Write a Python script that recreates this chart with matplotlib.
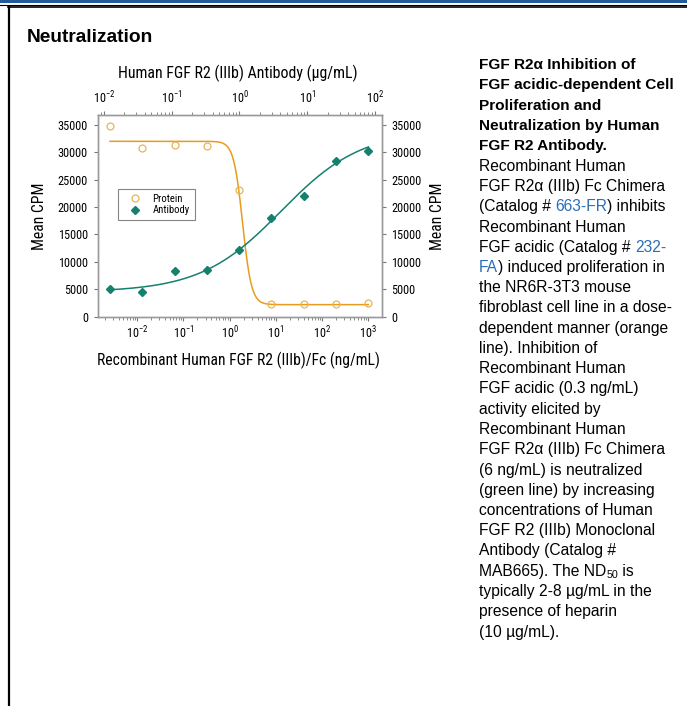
import numpy as np
import matplotlib
matplotlib.use('Agg')
import matplotlib.pyplot as plt
from matplotlib import font_manager as fm
from matplotlib.font_manager import FontProperties
from matplotlib.patches import Rectangle
from matplotlib.lines import Line2D
from matplotlib.ticker import FixedLocator

# data
protein_conc = [0.00256, 0.0128, 0.064, 0.32, 1.6, 8, 40, 200, 1000]      # ng/mL
protein_cpm = [34800, 30700, 31400, 31200, 23100, 2300, 2300, 2300, 2500]
antibody_conc = [0.0122, 0.0366, 0.110, 0.329, 0.988, 2.96, 8.89, 26.7, 80]  # ug/mL
antibody_cpm = [4990, 4440, 8340, 8580, 12110, 17960, 22040, 28430, 30200]
y_ticks = [0, 5000, 10000, 15000, 20000, 25000, 30000, 35000]
bottom_ticks = [1e-2, 1e-1, 1e0, 1e1, 1e2, 1e3]
top_ticks = [1e-2, 1e-1, 1e0, 1e1, 1e2]

# 4-parameter logistic fits (bottom, top, ec50, hill)
protein_fit = [2200, 32000, 1.9, 4.5]
antibody_fit = [4500, 34000, 4.1, 0.73]

orange = '#E89C1E'
orange_pt = '#E8B45A'
teal = '#16806F'
link = '#2A6EBB'
arial = ['Liberation Sans', 'DejaVu Sans']


def pick_condensed():
    good = []
    for f in fm.fontManager.ttflist:
        if f.style != 'normal' or f.weight not in (400, 'normal', 'regular', 'book'):
            continue
        n = f.name.lower()
        if f.stretch == 'condensed' or 'condensed' in n or 'narrow' in n:
            good.append(f)
    pref = ['roboto condensed', 'liberation sans narrow', 'open sans condensed',
            'noto sans condensed', 'noto sans', 'dejavu sans']
    for p in pref:
        for f in good:
            if f.name.lower() == p:
                return f.name, f.stretch
    if good:
        return good[0].name, good[0].stretch
    return 'Liberation Sans', 'normal'


cname, cstretch = pick_condensed()
cond = dict(family=cname, stretch=cstretch)
plt.rcParams['mathtext.fontset'] = 'custom'
plt.rcParams['mathtext.rm'] = f'{cname}:stretch={cstretch}'
plt.rcParams['mathtext.it'] = f'{cname}:stretch={cstretch}:style=italic'
plt.rcParams['mathtext.bf'] = f'{cname}:stretch={cstretch}:weight=bold'


def four_pl(x, p, decreasing=False):
    b, t, c, h = p
    if decreasing:
        return b + (t - b) / (1 + (x / c) ** h)
    return b + (t - b) / (1 + (c / x) ** h)


W, H = 687, 706
fig = plt.figure(figsize=(W / 100, H / 100), dpi=100)
renderer = fig.canvas.get_renderer()


def fit_size(s, target, base=10, **kw):
    t = fig.text(0, 0, s, fontsize=base, **kw)
    w = t.get_window_extent(renderer).width
    t.remove()
    return base * target / w


# page decoration
fig.add_artist(Rectangle((0, 1 - 3 / H), 1, 3 / H, transform=fig.transFigure, color='#1F5C99', lw=0))
fig.add_artist(Line2D([0, 1], [1 - 4.5 / H] * 2, transform=fig.transFigure, color='black', lw=0.8))
fig.add_artist(Line2D([8 / W, 1], [1 - 7 / H] * 2, transform=fig.transFigure, color='black', lw=1.2))
fig.add_artist(Line2D([8.5 / W] * 2, [0, 1 - 7 / H], transform=fig.transFigure, color='black', lw=1.6))

fig.text(27 / W, 1 - 38 / H, 'Neutralization', family=arial, weight='bold',
         fontsize=fit_size('Neutralization', 126, family=arial, weight='bold'),
         va='center', ha='left')

tick_fs = fit_size('35000', 30, **cond)
label_fs = fit_size('Recombinant Human FGF R2 (IIIb)/Fc (ng/mL)', 283, **cond)
top_fs = fit_size('Human FGF R2 (IIIb) Antibody (\u03bcg/mL)', 240, **cond)
legend_fs = fit_size('Antibody', 37, **cond)

ax = fig.add_axes([97.7 / W, 1 - 316.7 / H, 284 / W, 201.7 / H])
ax.set_xscale('log')
ax.set_xlim(10 ** -2.857, 10 ** 3.29)
ax.set_ylim(0, 36800)
ax.yaxis.set_major_locator(FixedLocator(y_ticks))
ax.xaxis.set_major_locator(FixedLocator(bottom_ticks))

xs = np.logspace(np.log10(protein_conc[0]), np.log10(protein_conc[-1]), 400)
ax.plot(xs, four_pl(xs, protein_fit, decreasing=True), color=orange, lw=1.1)
ax.plot(protein_conc, protein_cpm, 'o', mfc='none', mec=orange_pt, ms=5, mew=0.9, label='Protein')

axt = ax.twiny()
axt.set_xscale('log')
axt.set_xlim(10 ** -2.093, 10 ** 2.099)
axt.xaxis.set_major_locator(FixedLocator(top_ticks))
xa = np.logspace(np.log10(antibody_conc[0]), np.log10(antibody_conc[-1]), 400)
axt.plot(xa, four_pl(xa, antibody_fit), color=teal, lw=1.1)
axt.plot(antibody_conc, antibody_cpm, 'D', color=teal, ms=4.2, label='Antibody')

for a in (ax, axt):
    for s in a.spines.values():
        s.set_color('#9A9A9A')
        s.set_linewidth(1.0)
    a.tick_params(which='both', direction='out', color='#777777', labelsize=tick_fs)
    a.tick_params(which='major', length=3, width=0.8)
    a.tick_params(which='minor', length=2, width=0.6)

ax.tick_params(axis='y', right=True, labelright=True, pad=4)
ax.tick_params(axis='x', pad=3)
axt.tick_params(axis='x', pad=3)

tick_fp = FontProperties(family=cname, stretch=cstretch, size=tick_fs)
for lab in (ax.get_xticklabels() + ax.get_yticklabels() + axt.get_xticklabels()
            + [t.label2 for t in ax.yaxis.get_major_ticks()]):
    lab.set_fontproperties(tick_fp)

ax.set_ylabel('Mean CPM', fontsize=label_fs, **cond)
ax.yaxis.set_label_coords(-0.178, 0.5)
fig.text(437 / W, 1 - 216 / H, 'Mean CPM', fontsize=label_fs, rotation=90,
         ha='center', va='center', **cond)
ax.set_xlabel('Recombinant Human FGF R2 (IIIb)/Fc (ng/mL)', fontsize=label_fs, **cond)
ax.xaxis.set_label_coords(0.497, -0.175)
axt.set_xlabel('Human FGF R2 (IIIb) Antibody (\u03bcg/mL)', fontsize=top_fs, **cond)
axt.xaxis.set_label_coords(0.494, 1.183)

h1, l1 = ax.get_legend_handles_labels()
h2, l2 = axt.get_legend_handles_labels()
leg = axt.legend(h1 + h2, l1 + l2, loc='upper left', bbox_to_anchor=(0.0715, 0.633),
                 borderaxespad=0,
                 prop=FontProperties(family=cname, stretch=cstretch, size=legend_fs),
                 frameon=True, fancybox=False, edgecolor='#666666', borderpad=0.45,
                 handletextpad=0.6, labelspacing=0.15, handlelength=2.2)
leg.get_frame().set_linewidth(0.8)

# caption on the right
bold_lines = ['FGF R2\u03b1 Inhibition of', 'FGF acidic-dependent Cell', 'Proliferation and',
              'Neutralization by Human', 'FGF R2 Antibody.']
body_lines = [
    [('Recombinant Human', 'k')],
    [('FGF R2\u03b1 (IIIb) Fc Chimera', 'k')],
    [('(Catalog # ', 'k'), ('663-FR', link), (') inhibits', 'k')],
    [('Recombinant Human', 'k')],
    [('FGF acidic (Catalog # ', 'k'), ('232-', link)],
    [('FA', link), (') induced proliferation in', 'k')],
    [('the NR6R-3T3 mouse', 'k')],
    [('fibroblast cell line in a dose-', 'k')],
    [('dependent manner (orange', 'k')],
    [('line). Inhibition of', 'k')],
    [('Recombinant Human', 'k')],
    [('FGF acidic (0.3 ng/mL)', 'k')],
    [('activity elicited by', 'k')],
    [('Recombinant Human', 'k')],
    [('FGF R2\u03b1 (IIIb) Fc Chimera', 'k')],
    [('(6 ng/mL) is neutralized', 'k')],
    [('(green line) by increasing', 'k')],
    [('concentrations of Human', 'k')],
    [('FGF R2 (IIIb) Monoclonal', 'k')],
    [('Antibody (Catalog #', 'k')],
    [('MAB665). The ND', 'k'), ('50', 'sub'), (' is', 'k')],
    [('typically 2-8 \u00b5g/mL in the', 'k')],
    [('presence of heparin', 'k')],
    [('(10 \u00b5g/mL).', 'k')],
]

x0 = 479 / W
y_first = 65
step = 20.25
fs_bold = fit_size('FGF acidic-dependent Cell', 195, family=arial, weight='bold')
fs = fit_size('fibroblast cell line in a dose-', 194, family=arial)
for i, line in enumerate(bold_lines):
    fig.text(x0, 1 - (y_first + i * step) / H, line, family=arial, weight='bold',
             fontsize=fs_bold, va='center', ha='left')
for j, parts in enumerate(body_lines):
    y = 1 - (y_first + (len(bold_lines) + j) * step) / H
    x = x0
    for txt, col in parts:
        if col == 'sub':
            t = fig.text(x, y - 4 / H, txt, family=arial, fontsize=fs * 0.68, va='center',
                         ha='left', color='k')
        else:
            t = fig.text(x, y, txt, family=arial, fontsize=fs, va='center', ha='left', color=col)
        x = t.get_window_extent(renderer).x1 / W

fig.savefig('out.png', dpi=100)
